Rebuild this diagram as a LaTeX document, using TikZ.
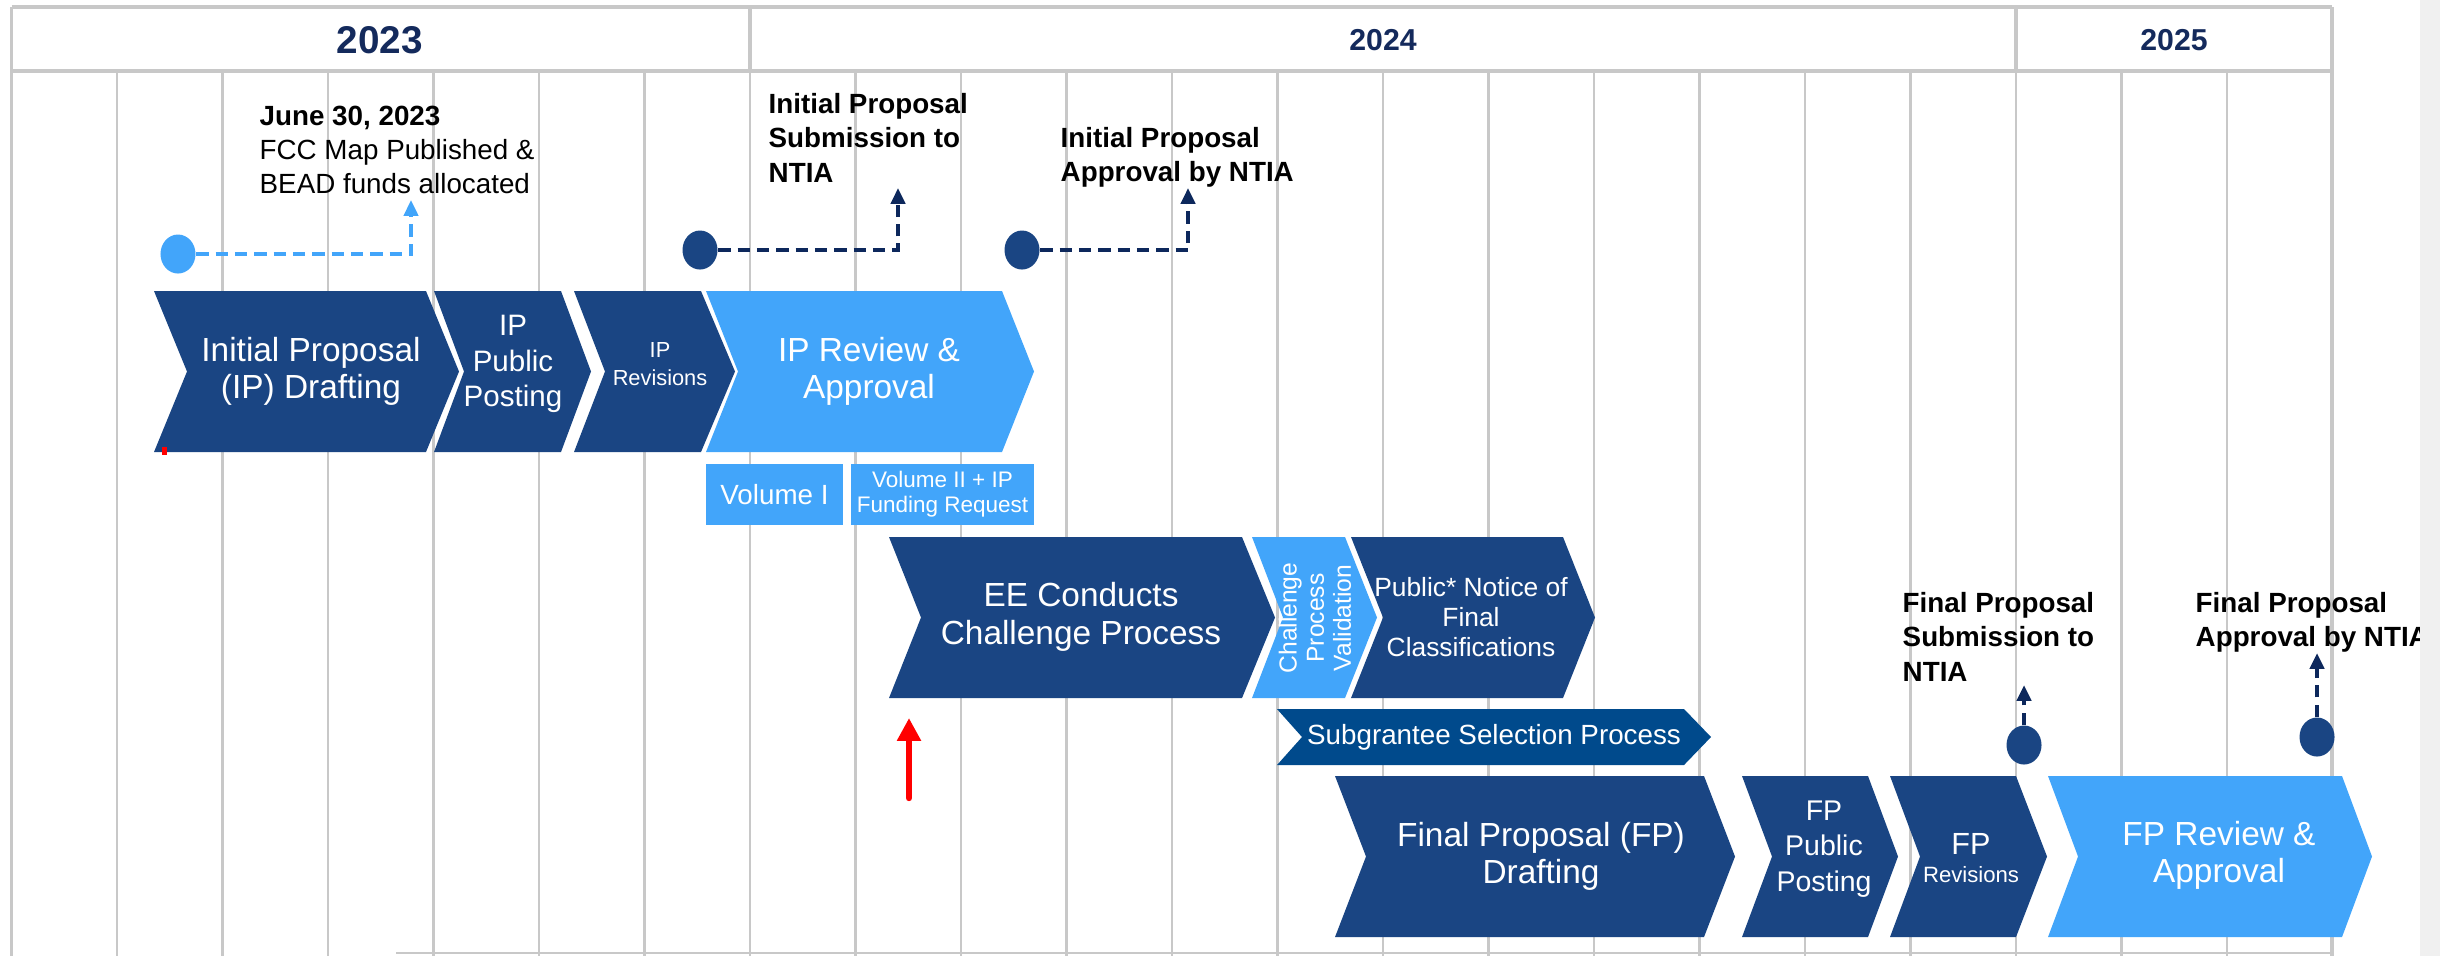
\documentclass[tikz,border=0pt]{standalone}
\usepackage{fontspec}
\setmainfont{Liberation Sans}
\usetikzlibrary{arrows.meta,shapes.geometric}

\definecolor{ipdark}{RGB}{26,69,131}
\definecolor{iplight}{RGB}{66,165,250}
\definecolor{subblue}{RGB}{0,74,140}
\definecolor{navy}{RGB}{13,40,92}
\definecolor{yearblue}{RGB}{20,42,92}
\definecolor{gridgray}{RGB}{200,200,200}
\definecolor{stripgray}{RGB}{240,240,240}

\begin{document}
\begin{tikzpicture}[x=0.01cm,y=-0.01cm,
  gridline/.style={draw=gridgray,line width=0.8pt},
  headline/.style={draw=gridgray,line width=1.1pt},
  chevdark/.style={fill=ipdark},
  chevlight/.style={fill=iplight},
  chevtext/.style={text=white,align=center,inner sep=0pt},
  volbox/.style={fill=iplight,text=white,align=center,inner sep=0pt,minimum height=0.61cm},
  msdot/.style={ellipse,fill=ipdark,minimum width=0.35cm,minimum height=0.39cm,inner sep=0pt},
  mslabel/.style={anchor=north west,align=left,inner sep=0pt,font=\fontsize{7.9}{9.7}\selectfont\bfseries},
  msdash/.style={draw=navy,line width=1.1pt,dash pattern=on 3.5pt off 2pt,-{Triangle[width=4pt,length=4.5pt]}},
  yearlabel/.style={text=yearblue,inner sep=0pt}]
\useasboundingbox (0,0) rectangle (2440,956);

%%% HEADER AND GRID
\path[headline] (11.5,7) -- (2332,7);
\path[headline] (11.5,71) -- (2332,71);
\path[headline] (11.5,7) -- (11.5,956);
\path[headline] (750,7) -- (750,71);
\path[headline] (2016,7) -- (2016,71);
\path[headline] (2332,7) -- (2332,956);
\foreach \i in {1,...,21} \path[gridline] ({11.5+105.5*\i},71) -- ({11.5+105.5*\i},956);
\path[gridline] (396,953) -- (2332,953);
\path (380,40) node[yearlabel,font=\fontsize{11}{13}\selectfont\bfseries] (yrA) {2023};
\path (1383,40) node[yearlabel,font=\fontsize{8.6}{10}\selectfont\bfseries] (yrB) {2024};
\path (2174,40) node[yearlabel,font=\fontsize{8.6}{10}\selectfont\bfseries] (yrC) {2025};

%%% IP ROW
\path[chevdark] (154,291) -- (426,291) -- (459,371.5) -- (426,452) -- (154,452) -- (187,371.5) -- cycle;
\path (311,371) node[chevtext,font=\fontsize{9.5}{10.6}\selectfont] (ipDraft) {Initial Proposal\\(IP) Drafting};
\path[chevdark] (434,291) -- (561,291) -- (591,371.5) -- (561,452) -- (434,452) -- (464,371.5) -- cycle;
\path (513,364) node[chevtext,font=\fontsize{8.4}{10}\selectfont] (ipPost) {IP\\Public\\Posting};
\path[chevdark] (574,291) -- (701,291) -- (735,371.5) -- (701,452) -- (574,452) -- (605,371.5) -- cycle;
\path (660,364) node[chevtext,font=\fontsize{6.2}{8}\selectfont] (ipRev) {IP\\Revisions};
\path[chevlight] (706,291) -- (1002,291) -- (1034,371.5) -- (1002,452) -- (706,452) -- (738,371.5) -- cycle;
\path (869,371) node[chevtext,font=\fontsize{9.5}{10.6}\selectfont] (ipReview) {IP Review \&\\Approval};
\path[fill=red] (162,447) rectangle (167,455);

%%% VOLUMES
\path (774.5,494.5) node[volbox,minimum width=1.37cm,font=\fontsize{7.9}{9}\selectfont] (volOne) {Volume I};
\path (942.5,494.5) node[volbox,minimum width=1.83cm,font=\fontsize{6.4}{7.1}\selectfont] (volTwo) {Volume II + IP\\Funding Request};

%%% CHALLENGE ROW
\path[chevdark] (889,537) -- (1242,537) -- (1275,617.5) -- (1242,698) -- (889,698) -- (921,617.5) -- cycle;
\path (1081,617) node[chevtext,font=\fontsize{9.5}{10.7}\selectfont] (eeChal) {EE Conducts\\Challenge Process};
\path[chevlight] (1252,537) -- (1345,537) -- (1377,617.5) -- (1345,698) -- (1252,698) -- (1283,617.5) -- cycle;
\path (1315,618) node[chevtext,rotate=90,font=\fontsize{7}{7.7}\selectfont] (chalVal) {Challenge\\Process\\Validation};
\path[chevdark] (1351,537) -- (1563,537) -- (1595,617.5) -- (1563,698) -- (1351,698) -- (1383,617.5) -- cycle;
\path (1471,617) node[chevtext,font=\fontsize{7.5}{8.5}\selectfont] (pubNotice) {Public* Notice of\\Final\\Classifications};
\path[fill=subblue] (1277,709) -- (1684,709) -- (1711,737) -- (1684,765) -- (1277,765) -- (1302,737) -- cycle;
\path (1494,737) node[chevtext,font=\fontsize{7.9}{9}\selectfont] (subSel) {Subgrantee Selection Process};
\coordinate (redBase) at (909,798);
\coordinate (redTip) at (909,718);
\path[draw=red,line width=1.8pt,line cap=round,-{Triangle[width=6.5pt,length=6.5pt]}] (redBase) -- (redTip);

%%% FP ROW
\path[chevdark] (1335,776) -- (1704,776) -- (1735,856.5) -- (1704,937) -- (1335,937) -- (1366,856.5) -- cycle;
\path (1541,856) node[chevtext,font=\fontsize{9.5}{10.5}\selectfont] (fpDraft) {Final Proposal (FP)\\Drafting};
\path[chevdark] (1742,776) -- (1868,776) -- (1898,856.5) -- (1868,937) -- (1742,937) -- (1772,856.5) -- cycle;
\path (1824,849) node[chevtext,font=\fontsize{8.1}{10.2}\selectfont] (fpPost) {FP\\Public\\Posting};
\path[chevdark] (1890,776) -- (2016,776) -- (2047,856.5) -- (2016,937) -- (1890,937) -- (1920,856.5) -- cycle;
\path (1971,858) node[chevtext,font=\fontsize{6.3}{8.2}\selectfont] (fpRev) {{\fontsize{8.7}{10}\selectfont FP}\\Revisions};
\path[chevlight] (2048,776) -- (2342,776) -- (2372,856.5) -- (2342,937) -- (2048,937) -- (2078,856.5) -- cycle;
\path (2219,855) node[chevtext,font=\fontsize{9.5}{10.5}\selectfont] (fpReview) {FP Review \&\\Approval};

%%% MILESTONES
\path (178,254) node[msdot,fill=iplight] (dotMap) {};
\coordinate (tipMap) at (411,200);
\path[msdash,draw=iplight] (dotMap.east) -| (tipMap);
\path (259,105) node[mslabel] (lblMap) {June 30, 2023\\\mdseries FCC Map Published \&\\\mdseries BEAD funds allocated};
\path (700,250) node[msdot] (dotIPsub) {};
\coordinate (tipIPsub) at (898,188);
\path[msdash] (dotIPsub.east) -| (tipIPsub);
\path (768,93) node[mslabel] (lblIPsub) {Initial Proposal\\Submission to\\NTIA};
\path (1022,250) node[msdot] (dotIPapp) {};
\coordinate (tipIPapp) at (1188,188);
\path[msdash] (dotIPapp.east) -| (tipIPapp);
\path (1060,127) node[mslabel] (lblIPapp) {Initial Proposal\\Approval by NTIA};
\path (2024,745) node[msdot] (dotFPsub) {};
\coordinate (tipFPsub) at (2024,685);
\path[msdash] (dotFPsub.north) -- (tipFPsub);
\path (1902,592) node[mslabel] (lblFPsub) {Final Proposal\\Submission to\\NTIA};
\path (2317,737) node[msdot] (dotFPapp) {};
\coordinate (tipFPapp) at (2317,653);
\path[msdash] (dotFPapp.north) -- (tipFPapp);
\path (2195,592) node[mslabel] (lblFPapp) {Final Proposal\\Approval by NTIA};

%%% PAGE EDGE
\path[fill=stripgray] (2420,0) rectangle (2440,956);
\end{tikzpicture}
\end{document}
